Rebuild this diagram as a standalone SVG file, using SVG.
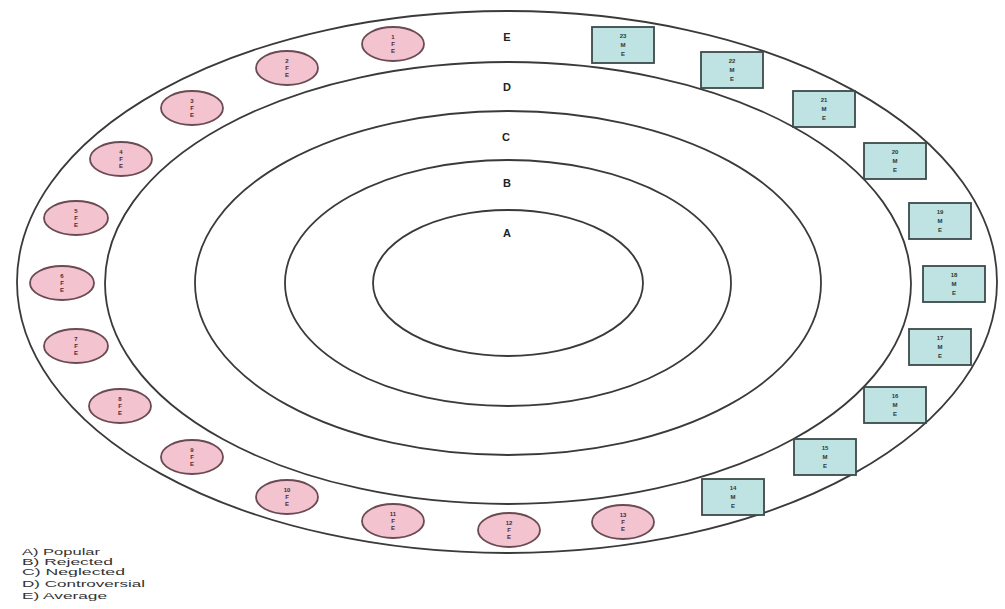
<svg xmlns="http://www.w3.org/2000/svg" width="1005" height="609" viewBox="0 0 1005 609">
<style>
.ring{fill:none;stroke:#3a3a3a;stroke-width:1.8}
.rl{font-family:"Liberation Sans",Arial,sans-serif;font-size:11px;font-weight:bold;fill:#222;text-anchor:middle}
.pk{fill:#f3c3cf;stroke:#6b4b53;stroke-width:1.8}
.bl{fill:#bfe3e3;stroke:#3c4a4a;stroke-width:1.8}
.nt{font-family:"Liberation Sans",Arial,sans-serif;font-size:6px;font-weight:bold;fill:#4a2a32;text-anchor:middle}
.bt{font-family:"Liberation Sans",Arial,sans-serif;font-size:6px;font-weight:bold;fill:#2a3838;text-anchor:middle}
.lg{font-family:"Liberation Sans",Arial,sans-serif;font-size:9px;fill:#333}
</style>
<rect width="1005" height="609" fill="#ffffff"/>
<g id="rings">
<ellipse class="ring" cx="507" cy="282" rx="490" ry="271"/>
<ellipse class="ring" cx="508" cy="283" rx="403" ry="221"/>
<ellipse class="ring" cx="508" cy="283" rx="313" ry="172"/>
<ellipse class="ring" cx="508" cy="283" rx="223" ry="123"/>
<ellipse class="ring" cx="508" cy="283" rx="135" ry="73"/>
</g>
<g id="ring-labels">
<text class="rl" x="507" y="41">E</text>
<text class="rl" x="507" y="91">D</text>
<text class="rl" x="506" y="141">C</text>
<text class="rl" x="507" y="187">B</text>
<text class="rl" x="507" y="237">A</text>
</g>
<g id="connectors"></g>
<g id="n1"><ellipse class="pk" cx="393" cy="44" rx="31" ry="17"/><text class="nt" x="393" y="39">1</text><text class="nt" x="393" y="46">F</text><text class="nt" x="393" y="53">E</text></g>
<g id="n2"><ellipse class="pk" cx="287" cy="68" rx="31" ry="17"/><text class="nt" x="287" y="63">2</text><text class="nt" x="287" y="70">F</text><text class="nt" x="287" y="77">E</text></g>
<g id="n3"><ellipse class="pk" cx="192" cy="108" rx="31" ry="17"/><text class="nt" x="192" y="103">3</text><text class="nt" x="192" y="110">F</text><text class="nt" x="192" y="117">E</text></g>
<g id="n4"><ellipse class="pk" cx="121" cy="159" rx="31" ry="17"/><text class="nt" x="121" y="154">4</text><text class="nt" x="121" y="161">F</text><text class="nt" x="121" y="168">E</text></g>
<g id="n5"><ellipse class="pk" cx="76" cy="218" rx="32" ry="17"/><text class="nt" x="76" y="213">5</text><text class="nt" x="76" y="220">F</text><text class="nt" x="76" y="227">E</text></g>
<g id="n6"><ellipse class="pk" cx="62" cy="283" rx="32" ry="17"/><text class="nt" x="62" y="278">6</text><text class="nt" x="62" y="285">F</text><text class="nt" x="62" y="292">E</text></g>
<g id="n7"><ellipse class="pk" cx="76" cy="346" rx="32" ry="17"/><text class="nt" x="76" y="341">7</text><text class="nt" x="76" y="348">F</text><text class="nt" x="76" y="355">E</text></g>
<g id="n8"><ellipse class="pk" cx="120" cy="406" rx="31" ry="17"/><text class="nt" x="120" y="401">8</text><text class="nt" x="120" y="408">F</text><text class="nt" x="120" y="415">E</text></g>
<g id="n9"><ellipse class="pk" cx="192" cy="457" rx="31" ry="17"/><text class="nt" x="192" y="452">9</text><text class="nt" x="192" y="459">F</text><text class="nt" x="192" y="466">E</text></g>
<g id="n10"><ellipse class="pk" cx="287" cy="497" rx="31" ry="17"/><text class="nt" x="287" y="492">10</text><text class="nt" x="287" y="499">F</text><text class="nt" x="287" y="506">E</text></g>
<g id="n11"><ellipse class="pk" cx="393" cy="521" rx="31" ry="17"/><text class="nt" x="393" y="516">11</text><text class="nt" x="393" y="523">F</text><text class="nt" x="393" y="530">E</text></g>
<g id="n12"><ellipse class="pk" cx="509" cy="530" rx="31" ry="17"/><text class="nt" x="509" y="525">12</text><text class="nt" x="509" y="532">F</text><text class="nt" x="509" y="539">E</text></g>
<g id="n13"><ellipse class="pk" cx="623" cy="522" rx="31" ry="17"/><text class="nt" x="623" y="517">13</text><text class="nt" x="623" y="524">F</text><text class="nt" x="623" y="531">E</text></g>
<g id="n14"><rect class="bl" x="702" y="479" width="62" height="36"/><text class="bt" x="733" y="490">14</text><text class="bt" x="733" y="499">M</text><text class="bt" x="733" y="508">E</text></g>
<g id="n15"><rect class="bl" x="794" y="439" width="62" height="36"/><text class="bt" x="825" y="450">15</text><text class="bt" x="825" y="459">M</text><text class="bt" x="825" y="468">E</text></g>
<g id="n16"><rect class="bl" x="864" y="387" width="62" height="36"/><text class="bt" x="895" y="398">16</text><text class="bt" x="895" y="407">M</text><text class="bt" x="895" y="416">E</text></g>
<g id="n17"><rect class="bl" x="909" y="329" width="62" height="36"/><text class="bt" x="940" y="340">17</text><text class="bt" x="940" y="349">M</text><text class="bt" x="940" y="358">E</text></g>
<g id="n18"><rect class="bl" x="923" y="266" width="62" height="36"/><text class="bt" x="954" y="277">18</text><text class="bt" x="954" y="286">M</text><text class="bt" x="954" y="295">E</text></g>
<g id="n19"><rect class="bl" x="909" y="203" width="62" height="36"/><text class="bt" x="940" y="214">19</text><text class="bt" x="940" y="223">M</text><text class="bt" x="940" y="232">E</text></g>
<g id="n20"><rect class="bl" x="864" y="143" width="62" height="36"/><text class="bt" x="895" y="154">20</text><text class="bt" x="895" y="163">M</text><text class="bt" x="895" y="172">E</text></g>
<g id="n21"><rect class="bl" x="793" y="91" width="62" height="36"/><text class="bt" x="824" y="102">21</text><text class="bt" x="824" y="111">M</text><text class="bt" x="824" y="120">E</text></g>
<g id="n22"><rect class="bl" x="701" y="52" width="62" height="36"/><text class="bt" x="732" y="63">22</text><text class="bt" x="732" y="72">M</text><text class="bt" x="732" y="81">E</text></g>
<g id="n23"><rect class="bl" x="592" y="27" width="62" height="36"/><text class="bt" x="623" y="38">23</text><text class="bt" x="623" y="47">M</text><text class="bt" x="623" y="56">E</text></g>
<g id="legend">
<text class="lg" x="22" y="555" textLength="78" lengthAdjust="spacingAndGlyphs">A) Popular</text>
<text class="lg" x="22" y="565" textLength="91" lengthAdjust="spacingAndGlyphs">B) Rejected</text>
<text class="lg" x="22" y="575" textLength="103" lengthAdjust="spacingAndGlyphs">C) Neglected</text>
<text class="lg" x="22" y="587" textLength="123" lengthAdjust="spacingAndGlyphs">D) Controversial</text>
<text class="lg" x="22" y="599" textLength="85" lengthAdjust="spacingAndGlyphs">E) Average</text>
</g>
</svg>
